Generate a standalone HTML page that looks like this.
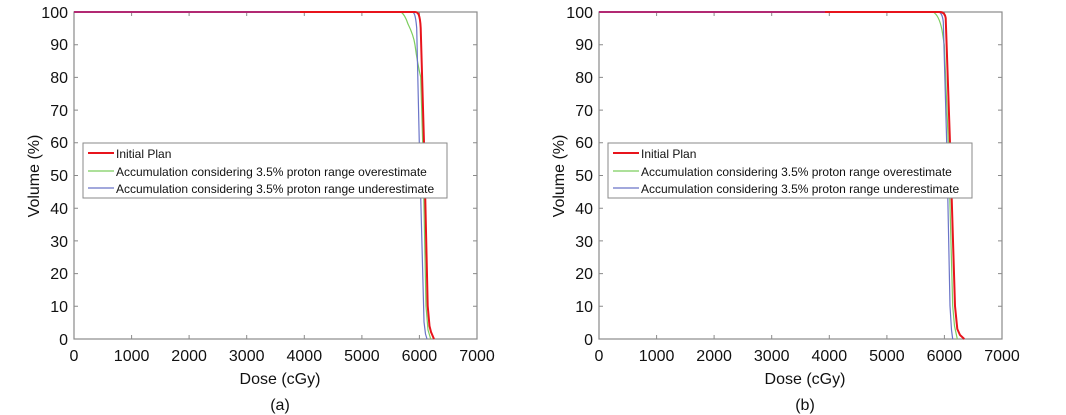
<!DOCTYPE html>
<html><head><meta charset="utf-8"><style>
html,body{margin:0;padding:0;background:#fff;}
svg{display:block;font-family:"Liberation Sans",Arial,sans-serif;}
</style></head><body>
<svg width="1066" height="415" viewBox="0 0 1066 415" xmlns="http://www.w3.org/2000/svg">
<defs>
<g id="axes">
  <rect x="74" y="12" width="403" height="327" fill="#fff" stroke="#8a8a8a" stroke-width="1.2"/>
  <g stroke="#8a8a8a" stroke-width="1">
    <path d="M131.6,339v-4M189.1,339v-4M246.7,339v-4M304.3,339v-4M361.9,339v-4M419.4,339v-4
             M131.6,12v4M189.1,12v4M246.7,12v4M304.3,12v4M361.9,12v4M419.4,12v4"/>
    <path d="M74,306.3h4M74,273.6h4M74,240.9h4M74,208.2h4M74,175.5h4M74,142.8h4M74,110.1h4M74,77.4h4M74,44.7h4
             M477,306.3h-4M477,273.6h-4M477,240.9h-4M477,208.2h-4M477,175.5h-4M477,142.8h-4M477,110.1h-4M477,77.4h-4M477,44.7h-4"/>
  </g>
  <g font-size="16" fill="#111" text-anchor="end">
    <text x="68" y="345">0</text><text x="68" y="312">10</text><text x="68" y="279">20</text>
    <text x="68" y="247">30</text><text x="68" y="214">40</text><text x="68" y="181">50</text>
    <text x="68" y="148">60</text><text x="68" y="116">70</text><text x="68" y="83">80</text>
    <text x="68" y="50">90</text><text x="68" y="18">100</text>
  </g>
  <g font-size="16" fill="#111" text-anchor="middle">
    <text x="74" y="361">0</text><text x="131.6" y="361">1000</text><text x="189.1" y="361">2000</text>
    <text x="246.7" y="361">3000</text><text x="304.3" y="361">4000</text><text x="361.9" y="361">5000</text>
    <text x="419.4" y="361">6000</text><text x="477" y="361">7000</text>
    <text x="280" y="384">Dose (cGy)</text>
  </g>
  <text transform="translate(39,176) rotate(-90)" font-size="16" fill="#111" text-anchor="middle">Volume (%)</text>
</g>
<g id="legend">
  <rect x="83" y="143" width="364" height="55" fill="#fff" stroke="#8a8a8a" stroke-width="1"/>
  <line x1="88" y1="153" x2="114" y2="153" stroke="#e8141c" stroke-width="2"/>
  <line x1="88" y1="171" x2="114" y2="171" stroke="#7ccd5e" stroke-width="1.2"/>
  <line x1="88" y1="188" x2="114" y2="188" stroke="#6b74c8" stroke-width="1.2"/>
  <g font-size="12" fill="#111">
    <text x="116" y="158">Initial Plan</text>
    <text x="116" y="176">Accumulation considering 3.5% proton range overestimate</text>
    <text x="116" y="193">Accumulation considering 3.5% proton range underestimate</text>
  </g>
</g>
</defs>

<!-- Panel a -->
<use href="#axes"/>
<g fill="none" stroke-linejoin="round">
  <path d="M74,12 L401,12 C404,14 406,18 408,24 C411,30 414,38 415,45 C417,60 419,70 420.7,77 L422.7,143 L426,306 L428,330 L430.7,339" stroke="#7ccd5e" stroke-width="1.2"/>
  <path d="M74,12 L412,12 C414,12 415.5,14 416.7,28 L419.3,143 L421,208 L424,322 L425.5,334 L427,339" stroke="#6b74c8" stroke-width="1.2"/>
  <path d="M74,12 L415,12 C418,12 420,14 420.7,28 L424,143 L427.7,306 L429.5,326 L431,332 L434,339" stroke="#e8141c" stroke-width="2"/>
  <path d="M74,12 L300,12" stroke="#a03090" stroke-width="1.5"/>
</g>
<use href="#legend"/>
<text x="280" y="410" font-size="16" fill="#111" text-anchor="middle">(a)</text>

<!-- Panel b -->
<g transform="translate(525,0)">
<use href="#axes"/>
<g fill="none" stroke-linejoin="round">
  <path d="M74,12 L408,12 C412,14 415,20 417,30 L419.3,45 L423.3,143 L427.7,306 L429.5,326 L432.3,339" stroke="#7ccd5e" stroke-width="1.2"/>
  <path d="M74,12 L413,12 C416,12 417.5,15 418.3,22 L421.7,143 L425,306 L426.5,330 L427.7,339" stroke="#6b74c8" stroke-width="1.2"/>
  <path d="M74,12 L415,12 C418,12 420,14 420.7,18 L425,143 L430,306 L432.3,329 L435,335 L439.3,339" stroke="#e8141c" stroke-width="2"/>
  <path d="M74,12 L300,12" stroke="#a03090" stroke-width="1.5"/>
</g>
<use href="#legend"/>
<text x="280" y="410" font-size="16" fill="#111" text-anchor="middle">(b)</text>
</g>
</svg>
</body></html>
